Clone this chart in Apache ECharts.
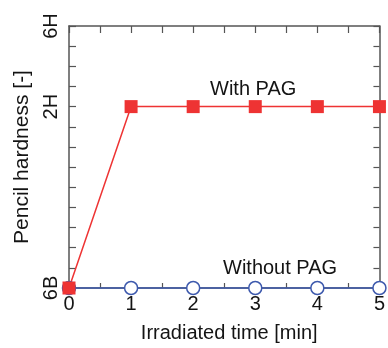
<!DOCTYPE html>
<html>
<head>
<meta charset="utf-8">
<script src="https://cdn.jsdelivr.net/npm/echarts@6/dist/echarts.min.js"></script>
<style>html,body{margin:0;padding:0;background:#fff;}#c{width:388px;height:348px;}</style>
</head>
<body>
<div id="c"></div>
<script>
// Data
var times = [0, 1, 2, 3, 4, 5];
var withPAG = [0, 9, 9, 9, 9, 9];      // hardness index: 0=6B ... 9=2H ... 13=6H
var withoutPAG = [0, 0, 0, 0, 0, 0];
var hardnessLabels = {0: '6B', 9: '2H', 13: '6H'};
var seriesNames = ['With PAG', 'Without PAG'];
var xTitle = 'Irradiated time [min]';
var yTitle = 'Pencil hardness [-]';

var FONT = 'Liberation Sans, Arial, sans-serif';
var AXC = '#555555';
var TXT = '#141414';
var chart = echarts.init(document.getElementById('c'));

function pairs(ys) { return times.map(function (t, i) { return [t, ys[i]]; }); }

var axisLineStyle = {show: true, onZero: false, lineStyle: {color: AXC, width: 1.5}};
function ticks(len) { return {show: true, inside: true, length: len, lineStyle: {color: AXC, width: 1.2}}; }

chart.setOption({
  animation: false,
  grid: {left: 69, right: 0.5, top: 26, bottom: 55, containLabel: false},
  xAxis: [{
    type: 'value', min: 0, max: 5, interval: 0.5, position: 'bottom',
    axisLine: axisLineStyle, axisTick: ticks(5), splitLine: {show: false},
    axisLabel: {margin: 6, color: TXT, fontFamily: FONT, fontSize: 20,
      formatter: function (v) { return Math.abs(v - Math.round(v)) < 1e-6 ? String(Math.round(v)) : ''; }},
    name: xTitle, nameLocation: 'middle', nameGap: 35,
    nameTextStyle: {color: TXT, fontFamily: FONT, fontSize: 20, padding: [0, 0, 0, 10]}
  }, {
    type: 'value', min: 0, max: 5, interval: 0.5, position: 'top',
    axisLine: axisLineStyle, axisTick: ticks(7), splitLine: {show: false},
    axisLabel: {show: false}
  }],
  yAxis: [{
    type: 'value', min: 0, max: 13, interval: 1, position: 'left',
    axisLine: axisLineStyle, axisTick: ticks(7), splitLine: {show: false},
    axisLabel: {rotate: 90, margin: 8, color: TXT, fontFamily: FONT, fontSize: 20,
      formatter: function (v) { return hardnessLabels[v] || ''; }},
    name: yTitle, nameLocation: 'middle', nameGap: 35,
    nameTextStyle: {color: TXT, fontFamily: FONT, fontSize: 21}
  }, {
    type: 'value', min: 0, max: 13, interval: 1, position: 'right',
    axisLine: axisLineStyle, axisTick: ticks(6), splitLine: {show: false},
    axisLabel: {show: false}
  }],
  series: [{
    name: seriesNames[1], type: 'line', data: pairs(withoutPAG), clip: false,
    symbol: 'circle', symbolSize: 13,
    lineStyle: {color: '#3d59ad', width: 1.5},
    itemStyle: {color: '#ffffff', borderColor: '#3d59ad', borderWidth: 1.5}
  }, {
    name: seriesNames[0], type: 'line', data: pairs(withPAG), clip: false,
    symbol: 'rect', symbolSize: 13,
    lineStyle: {color: '#ee3333', width: 1.5},
    itemStyle: {color: '#ee3333'}
  }],
  graphic: [
    {type: 'text', left: 210, top: 79, style: {text: seriesNames[0], font: '20px ' + FONT, fill: TXT}},
    {type: 'text', left: 223, top: 258, style: {text: seriesNames[1], font: '20px ' + FONT, fill: TXT}}
  ]
});
</script>
</body>
</html>
